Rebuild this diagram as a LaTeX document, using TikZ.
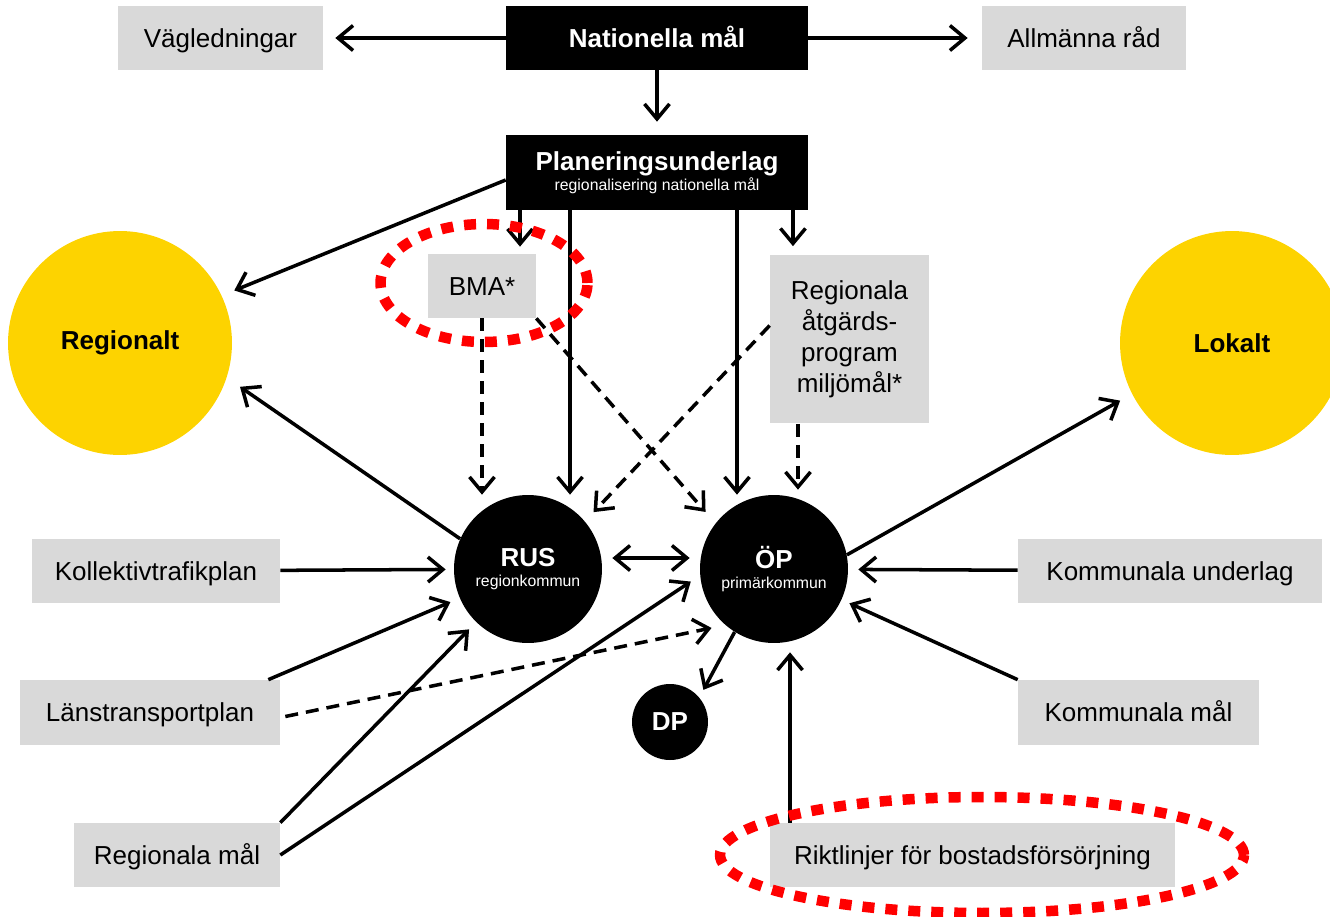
\documentclass[tikz,border=0pt]{standalone}
\usepackage{fontspec}
\setmainfont{Liberation Sans}
\usepackage{tikz}
\usetikzlibrary{arrows.meta}
\definecolor{boxgray}{HTML}{D9D9D9}
\definecolor{sunyellow}{HTML}{FDD300}
\definecolor{markred}{HTML}{FF0000}

\begin{document}
\begin{tikzpicture}[x=0.02cm, y=-0.02cm,
        font=\fontsize{14.8}{17.6}\selectfont,
        >={Straight Barb[length=0.3cm,width=0.5cm]},
        gray/.style={fill=boxgray, inner sep=0pt, minimum height=1.28cm},
        gbox/.style={gray, text height=10.6pt, text depth=0pt},
        bbox/.style={fill=black, text=white, inner sep=0pt, minimum width=6.04cm, font=\fontsize{14.8}{17.6}\selectfont\bfseries},
        sun/.style={circle, fill=sunyellow, inner sep=0pt, minimum size=4.48cm, font=\fontsize{14.8}{17.6}\selectfont\bfseries},
        dot/.style={circle, fill=black, text=white, inner sep=0pt, align=center, font=\fontsize{14.8}{17.6}\selectfont\bfseries},
        link/.style={->, line width=2pt},
        dlink/.style={link, dash pattern=on 0.26cm off 0.16cm},
        ring/.style={draw=markred, line width=0.21cm, dash pattern=on 0.24cm off 0.22cm}]
            \useasboundingbox (0,0) rectangle (1330,917);
            \clip (0,0) rectangle (1330,917);
            \node[gbox, minimum width=4.1cm] (vagl) at (220.5,38) {Vägledningar};
            \node[bbox, minimum height=1.28cm, text height=10.6pt, text depth=0pt] (natmal) at (657,38) {Nationella mål};
            \node[gbox, minimum width=4.08cm] (allm) at (1084,38) {Allmänna råd};
            \node[bbox, minimum height=1.5cm, align=center] (planu) at (657,172.5) {Planeringsunderlag\\[-6pt]{\fontsize{9}{10}\selectfont\mdseries regionalisering nationella mål}};
            \node[gbox, minimum width=2.16cm] (bma) at (482,286) {BMA*};
            \node[gray, minimum width=3.18cm, minimum height=3.38cm, align=center] (ratg) at (849.5,339) {Regionala\\åtgärds-\\program\\miljömål*};
            \node[sun] (regionalt) at (120,343) {Regionalt};
            \node[sun] (lokalt) at (1232,343) {Lokalt};
            \node[dot, minimum size=2.96cm] (rus) at (528,569) {RUS\\[-6pt]{\fontsize{9}{10}\selectfont\mdseries regionkommun}};
            \node[dot, minimum size=2.96cm] (op) at (774,569) {ÖP\\[-6pt]{\fontsize{9}{10}\selectfont\mdseries primärkommun}};
            \node[dot, minimum size=1.52cm] (dp) at (670,722) {DP};
            \node[gbox, minimum width=4.96cm] (koll) at (156,571) {Kollektivtrafikplan};
            \node[gbox, minimum width=5.2cm, minimum height=1.3cm] (lans) at (150,712.5) {Länstransportplan};
            \node[gbox, minimum width=4.12cm] (regmal) at (177,855) {Regionala mål};
            \node[gbox, minimum width=6.08cm] (kunder) at (1170,571) {Kommunala underlag};
            \node[gbox, minimum width=4.82cm, minimum height=1.3cm] (kmal) at (1138.5,712.5) {Kommunala mål};
            \node[gbox, minimum width=8.1cm] (rikt) at (972.5,855) {Riktlinjer för bostadsförsörjning};
            \draw[link, shorten >=0.24cm] (natmal) -- (vagl);
            \draw[link, shorten >=0.28cm] (natmal) -- (allm);
            \draw[link, shorten >=0.26cm] (natmal) -- (planu);
            \draw[link, shorten >=0.27cm] ([yshift=-0.15cm]planu.west) -- (regionalt.25);
            \draw[link, shorten >=0.14cm] ([xshift=-2.74cm]planu.south) -- ([xshift=-2.74cm]planu.south |- bma.north);
            \draw[link] ([xshift=-1.74cm]planu.south) -- ([xshift=-1.74cm]planu.south |- rus.north);
            \draw[link] ([xshift=1.6cm]planu.south) -- ([xshift=1.6cm]planu.south |- op.north);
            \draw[link, shorten >=0.16cm] ([xshift=2.72cm]planu.south) -- ([xshift=2.72cm]planu.south |- ratg.north);
            \draw[dlink] (bma) -- (bma |- rus.north);
            \draw[dlink, shorten >=0.3cm] (bma.south east) -- (op.142);
            \draw[dlink, shorten >=0.25cm] ([yshift=0.27cm]ratg.west) -- (rus.40);
            \draw[dlink, shorten >=0.1cm] ([xshift=-1.03cm]ratg.south) -- ([xshift=-1.03cm]ratg.south |- op.north);
            \draw[link, shorten >=0.32cm] (rus.156) -- (regionalt.342);
            \draw[link, shorten >=0.16cm] (koll) -- (rus);
            \draw[link, shorten >=0.2cm] ([xshift=-0.24cm]lans.north east) -- (rus);
            \draw[dlink, shorten >=0.28cm] ([xshift=0.1cm,yshift=-0.08cm]lans.east) -- (op.229);
            \draw[link, shorten >=0.2cm] (regmal.north east) -- (rus);
            \draw[link, shorten >=0.22cm] (regmal.east) -- (op.185);
            \draw[link, <->, shorten <=0.2cm, shorten >=0.2cm] ([yshift=0.22cm]rus.east) -- ([yshift=0.22cm]op.west);
            \draw[link, shorten >=0.27cm] (op.11) -- (lokalt.207);
            \draw[link, shorten >=0.2cm] (kunder) -- (op);
            \draw[link, shorten >=0.17cm] (kmal.north west) -- (op);
            \draw[link, shorten >=0.17cm] (op.238) -- (dp.40);
            \draw[link, shorten >=0.18cm] ([xshift=-3.65cm]rikt.north) -- ([xshift=-3.65cm]rikt.north |- op.south);
            \draw[ring] ([shift={(2,-3)}]bma.center) ellipse [x radius=2.07cm, y radius=1.18cm];
            \draw[ring] ([xshift=0.19cm]rikt.center) ellipse [x radius=5.24cm, y radius=1.16cm];
        \end{tikzpicture}
\end{document}
